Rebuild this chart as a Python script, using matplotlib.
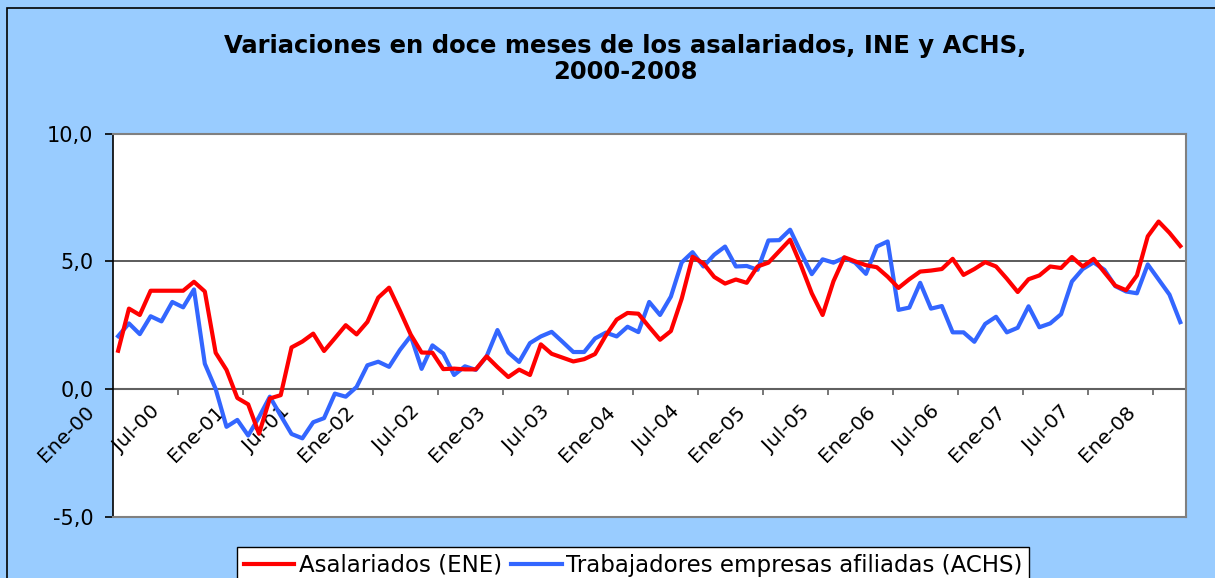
import matplotlib
matplotlib.use("Agg")
import matplotlib.pyplot as plt
import matplotlib.patches as mpatches
from matplotlib.lines import Line2D

# ---------------- data ----------------
months = list(range(99))  # Ene-00 .. Mar-08
tick_positions = list(range(0, 99, 6))
tick_labels = ["Ene-00", "Jul-00", "Ene-01", "Jul-01", "Ene-02", "Jul-02",
               "Ene-03", "Jul-03", "Ene-04", "Jul-04", "Ene-05", "Jul-05",
               "Ene-06", "Jul-06", "Ene-07", "Jul-07", "Ene-08"]
y_ticks = [-5, 0, 5, 10]
y_tick_labels = ["-5,0", "0,0", "5,0", "10,0"]

asalariados = [
    1.50, 3.15, 2.90, 3.85, 3.85, 3.85, 3.85, 4.20, 3.82, 1.42, 0.75, -0.35,
    -0.60, -1.75, -0.37, -0.24, 1.63, 1.86, 2.17, 1.49, 1.99, 2.50, 2.14, 2.63,
    3.58, 3.97, 3.07, 2.13, 1.43, 1.42, 0.78, 0.80, 0.77, 0.77, 1.28, 0.86,
    0.47, 0.76, 0.55, 1.75, 1.38, 1.23, 1.08, 1.17, 1.37, 2.10, 2.72, 2.98,
    2.95, 2.43, 1.93, 2.27, 3.54, 5.18, 4.92, 4.39, 4.13, 4.29, 4.16, 4.80,
    4.95, 5.40, 5.85, 4.85, 3.75, 2.90, 4.22, 5.16, 5.00, 4.85, 4.77, 4.40,
    3.96, 4.30, 4.60, 4.64, 4.70, 5.10, 4.47, 4.70, 4.97, 4.80, 4.32, 3.80,
    4.30, 4.45, 4.80, 4.74, 5.17, 4.80, 5.10, 4.57, 4.05, 3.87, 4.45, 5.98,
    6.56, 6.12, 5.60]

trabajadores = [
    2.07, 2.57, 2.15, 2.85, 2.65, 3.41, 3.20, 3.90, 0.99, 0.00, -1.48, -1.21,
    -1.82, -1.10, -0.30, -1.04, -1.76, -1.93, -1.30, -1.14, -0.18, -0.30, 0.08, 0.93,
    1.07, 0.87, 1.53, 2.08, 0.79, 1.71, 1.39, 0.55, 0.89, 0.75, 1.28, 2.31,
    1.43, 1.06, 1.80, 2.06, 2.24, 1.85, 1.45, 1.45, 1.98, 2.21, 2.06, 2.44,
    2.23, 3.41, 2.90, 3.62, 4.96, 5.36, 4.80, 5.26, 5.58, 4.80, 4.82, 4.67,
    5.82, 5.83, 6.24, 5.35, 4.50, 5.08, 4.95, 5.14, 4.95, 4.51, 5.58, 5.78,
    3.10, 3.19, 4.16, 3.15, 3.25, 2.22, 2.22, 1.85, 2.55, 2.83, 2.22, 2.40,
    3.24, 2.42, 2.57, 2.93, 4.21, 4.70, 4.96, 4.67, 4.03, 3.82, 3.75, 4.88,
    4.29, 3.70, 2.62]

series_names = ["Asalariados (ENE)", "Trabajadores empresas afiliadas (ACHS)"]
title = "Variaciones en doce meses de los asalariados, INE y ACHS,\n2000-2008"

# ---------------- figure ----------------
W, H = 1215, 578
plt.rcParams["font.family"] = ["DejaVu Sans"]
fig = plt.figure(figsize=(W / 100, H / 100), dpi=100)
fig.patch.set_facecolor("#99CCFF")

# chart-area border
fig.patches.append(mpatches.Rectangle((7 / W, -0.1), 1.5, 1 - 8 / H + 0.1,
                                      transform=fig.transFigure, fill=False,
                                      edgecolor="#000000", lw=1.2))

L, R, T, B = 112.7, 1185.7, 133.7, 516.7
ax = fig.add_axes([L / W, 1 - B / H, (R - L) / W, (B - T) / H])
ax.set_facecolor("white")
ax.set_xlim(-0.5, len(months) - 0.5)
ax.set_ylim(-5, 10)

# gridline and zero axis
ax.axhline(5, color="#404040", lw=1.2, zorder=1)
ax.axhline(0, color="#606060", lw=1.5, zorder=1)
ax.vlines([p - 0.5 for p in tick_positions[1:]], -0.24, 0, color="#606060",
          lw=1.2, zorder=1)

ax.plot(months, trabajadores, color="#3366FF", lw=3.0, zorder=3,
        solid_joinstyle="round")
ax.plot(months, asalariados, color="#FF0000", lw=3.0, zorder=4,
        solid_joinstyle="round")

for s in ["top", "right", "bottom"]:
    ax.spines[s].set_color("#808080")
    ax.spines[s].set_linewidth(1.5)
ax.spines["left"].set_color("#000000")
ax.spines["left"].set_linewidth(1.2)

ax.set_yticks(y_ticks)
ax.set_yticklabels(y_tick_labels)
ax.tick_params(axis="y", direction="out", length=6, width=1.2, color="black",
               labelsize=15, pad=8)
ax.set_xticks([])

for p, lab in zip(tick_positions, tick_labels):
    ax.annotate(lab, xy=(p, 0), xycoords="data", xytext=(-19, -14),
                textcoords="offset points", rotation=45,
                rotation_mode="anchor", ha="right", va="center",
                fontsize=14.5, color="black", annotation_clip=False, zorder=2)

fig.text(625 / W, 1 - 59 / H, title, ha="center", va="center",
         fontsize=17.5, fontweight="bold", linespacing=1.15)

handles = [Line2D([], [], color="#FF0000", lw=3.0),
           Line2D([], [], color="#3366FF", lw=3.0)]
leg = fig.legend(handles, series_names, loc="upper left",
                 bbox_to_anchor=(237 / W, 1 - 546.7 / H), ncol=2,
                 fontsize=16.5, frameon=True, fancybox=False,
                 edgecolor="black", framealpha=1, borderaxespad=0,
                 handlelength=2.2, handletextpad=0.2, columnspacing=0.4,
                 borderpad=0.3)
leg.get_frame().set_linewidth(1.0)

fig.savefig("out.png", dpi=100, facecolor=fig.get_facecolor())
